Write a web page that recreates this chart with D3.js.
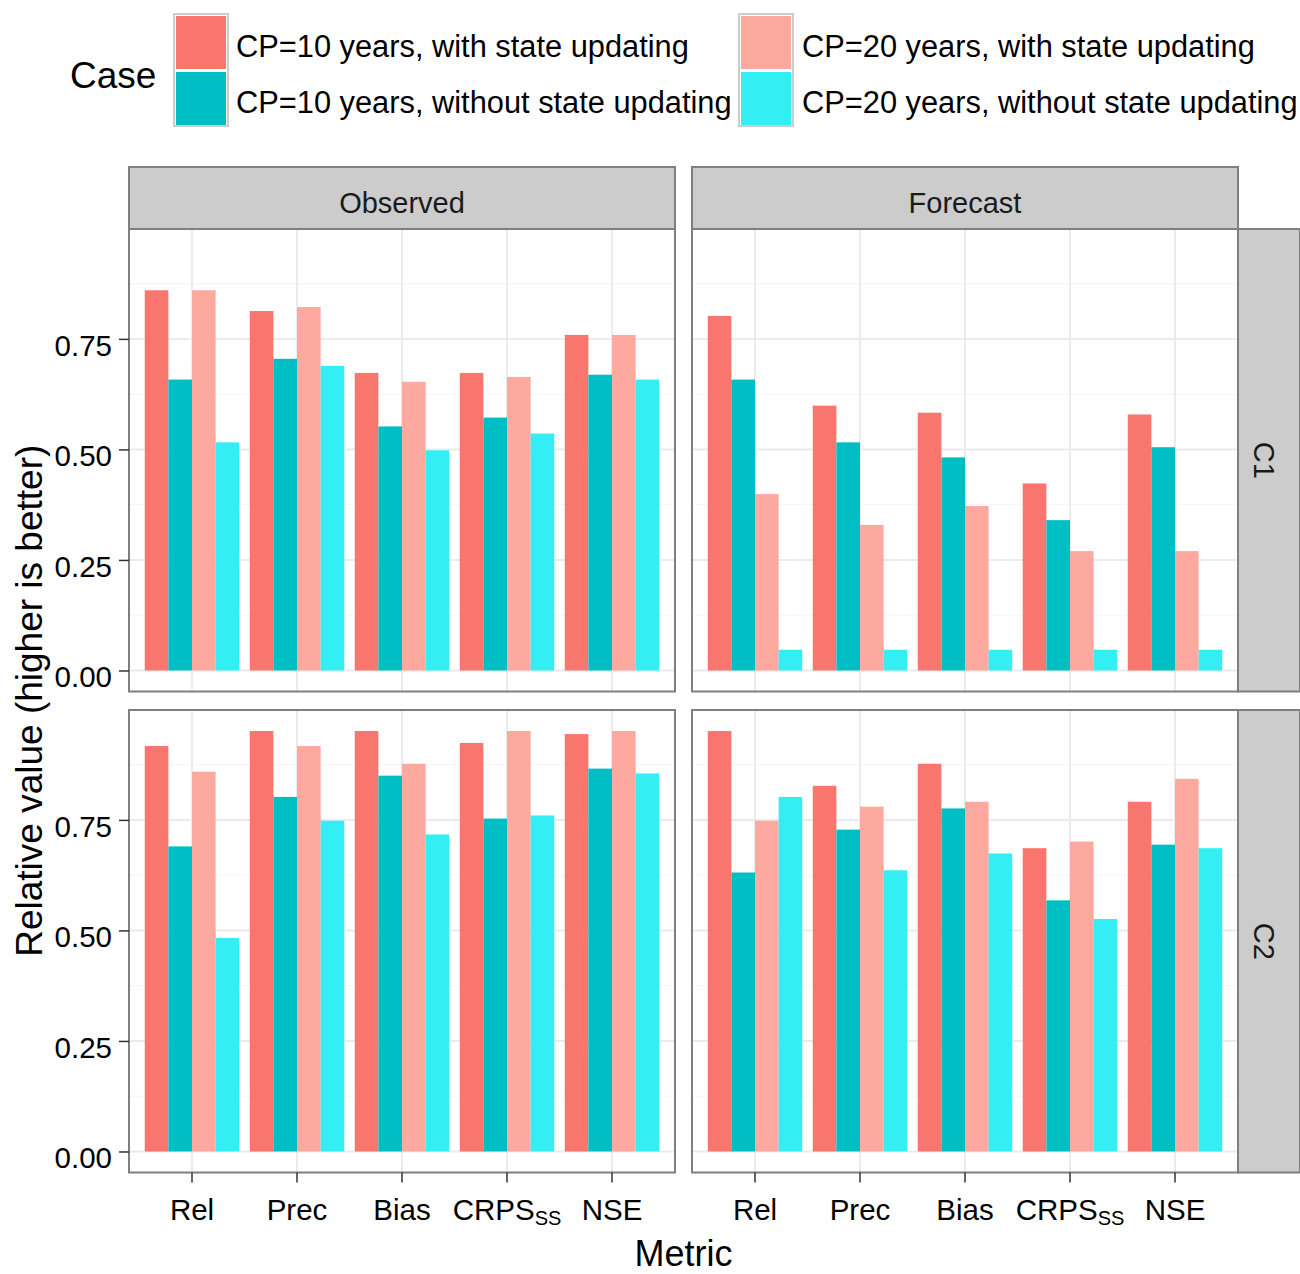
<!DOCTYPE html>
<html>
<head>
<meta charset="utf-8">
<script src="https://cdn.jsdelivr.net/npm/d3@7"></script>
<style>
  body { margin: 0; background: #fff; }
  svg { display: block; font-family: "Liberation Sans", Arial, sans-serif; }
</style>
</head>
<body>
<div id="chart"></div>
<script>
// categories
const metrics = ["Rel", "Prec", "Bias", "CRPS", "NSE"];
const cases = [
  "CP=10 years, with state updating",
  "CP=10 years, without state updating",
  "CP=20 years, with state updating",
  "CP=20 years, without state updating"
];
const sources = ["Observed", "Forecast"];
const catchments = ["C1", "C2"];
const caseColors = ["#F8766D", "#00BFC4", "#FDA9A0", "#33EFF4"];
const yTicks = [0, 0.25, 0.5, 0.75];
const yMinorTicks = [0.125, 0.375, 0.625, 0.875];

// values: one row per case, one value per metric
const c1Observed = [
  [0.860, 0.813, 0.673, 0.673, 0.759],
  [0.658, 0.705, 0.552, 0.572, 0.669],
  [0.860, 0.822, 0.653, 0.664, 0.759],
  [0.516, 0.689, 0.498, 0.536, 0.658]
];
const c1Forecast = [
  [0.802, 0.599, 0.583, 0.423, 0.579],
  [0.658, 0.516, 0.482, 0.340, 0.505],
  [0.399, 0.329, 0.372, 0.270, 0.270],
  [0.047, 0.047, 0.047, 0.047, 0.047]
];
const c2Observed = [
  [0.917, 0.951, 0.951, 0.924, 0.944],
  [0.690, 0.802, 0.850, 0.753, 0.866],
  [0.859, 0.917, 0.877, 0.951, 0.951],
  [0.483, 0.748, 0.717, 0.760, 0.855]
];
const c2Forecast = [
  [0.951, 0.827, 0.877, 0.686, 0.791],
  [0.631, 0.728, 0.776, 0.568, 0.694],
  [0.748, 0.780, 0.791, 0.701, 0.843],
  [0.802, 0.636, 0.674, 0.526, 0.686]
];
const panelValues = [[c1Observed, c1Forecast], [c2Observed, c2Forecast]];

// layout
const width = 1300, height = 1274;
const panelW = 546, panelH = 462.5;
const colX = [129, 692];
const rowY = [229, 710];
const stripTop = 167, stripH = 62, stripW = 62;

const svg = d3.select("#chart").append("svg")
    .attr("width", width)
    .attr("height", height);

svg.append("rect").attr("width", width).attr("height", height).attr("fill", "#fff");

// shared scales
const maxVal = d3.max(panelValues.flat(3));
const y = d3.scaleLinear()
    .domain([-0.05 * maxVal, 1.05 * maxVal])
    .range([panelH, 0]);

// discrete scale with ggplot-like 0.6 expansion
const x = d3.scaleBand()
    .domain(metrics)
    .range([0, panelW])
    .paddingInner(0.1)
    .paddingOuter(0.15);

const xCase = d3.scaleBand()
    .domain(cases)
    .range([0, x.bandwidth()]);

const xCenter = m => x(m) + x.bandwidth() / 2;

catchments.forEach((cat, r) => {
  sources.forEach((src, c) => {
    const g = svg.append("g")
        .attr("transform", `translate(${colX[c]},${rowY[r]})`);

    g.append("rect")
        .attr("width", panelW).attr("height", panelH)
        .attr("fill", "#fff");

    // grid
    g.selectAll(".minor").data(yMinorTicks).join("line")
        .attr("x1", 0).attr("x2", panelW)
        .attr("y1", d => y(d)).attr("y2", d => y(d))
        .attr("stroke", "#f5f5f5").attr("stroke-width", 1);

    g.selectAll(".major").data(yTicks).join("line")
        .attr("x1", 0).attr("x2", panelW)
        .attr("y1", d => y(d)).attr("y2", d => y(d))
        .attr("stroke", "#ebebeb").attr("stroke-width", 2);

    g.selectAll(".vgrid").data(metrics).join("line")
        .attr("x1", d => xCenter(d)).attr("x2", d => xCenter(d))
        .attr("y1", 0).attr("y2", panelH)
        .attr("stroke", "#ebebeb").attr("stroke-width", 2);

    // bars
    const vals = panelValues[r][c];
    const bars = [];
    cases.forEach((cs, k) => {
      metrics.forEach((m, j) => bars.push({ metric: m, kase: cs, k: k, value: vals[k][j] }));
    });

    g.selectAll(".bar").data(bars).join("rect")
        .attr("x", d => x(d.metric) + xCase(d.kase))
        .attr("width", xCase.bandwidth())
        .attr("y", d => y(d.value))
        .attr("height", d => y(0) - y(d.value))
        .attr("fill", d => caseColors[d.k]);

    g.append("rect")
        .attr("width", panelW).attr("height", panelH)
        .attr("fill", "none")
        .attr("stroke", "#7f7f7f").attr("stroke-width", 2);

    // axes
    if (c === 0) {
      const ya = g.append("g")
          .call(d3.axisLeft(y).tickValues(yTicks).tickFormat(d3.format(".2f"))
            .tickSize(10).tickPadding(7));
      ya.select(".domain").remove();
      ya.selectAll(".tick line").attr("stroke", "#333").attr("stroke-width", 1.5);
      ya.selectAll("text")
          .attr("fill", "#000")
          .attr("dy", "0.55em")
          .style("font-size", "29.5px");
    }
    if (r === catchments.length - 1) {
      const xa = g.append("g")
          .attr("transform", `translate(0,${panelH})`)
          .call(d3.axisBottom(x).tickSize(10).tickPadding(17));
      xa.select(".domain").remove();
      xa.selectAll(".tick line").attr("stroke", "#333").attr("stroke-width", 1.5);
      xa.selectAll("text")
          .attr("fill", "#000")
          .style("font-size", "29.5px");
      // CRPS with SS subscript
      xa.selectAll("text").filter(d => d === "CRPS").each(function() {
        const t = d3.select(this).text("");
        t.append("tspan").text("CRPS");
        t.append("tspan").text("SS")
            .attr("dy", "0.25em")
            .style("font-size", "20px");
      });
    }
  });
});

// top strips
sources.forEach((src, c) => {
  svg.append("rect")
      .attr("x", colX[c]).attr("y", stripTop)
      .attr("width", panelW).attr("height", stripH)
      .attr("fill", "#cccccc")
      .attr("stroke", "#7f7f7f").attr("stroke-width", 2);
  svg.append("text")
      .attr("x", colX[c] + panelW / 2)
      .attr("y", 213)
      .attr("text-anchor", "middle")
      .attr("fill", "#1a1a1a")
      .style("font-size", "29px")
      .text(src);
});

// right strips
const stripX = colX[1] + panelW;
catchments.forEach((cat, r) => {
  svg.append("rect")
      .attr("x", stripX).attr("y", rowY[r])
      .attr("width", stripW).attr("height", panelH)
      .attr("fill", "#cccccc")
      .attr("stroke", "#7f7f7f").attr("stroke-width", 2);
  svg.append("text")
      .attr("transform", `translate(${stripX + 16},${rowY[r] + panelH / 2}) rotate(90)`)
      .attr("text-anchor", "middle")
      .attr("fill", "#1a1a1a")
      .style("font-size", "29px")
      .text(cat);
});

// axis titles
svg.append("text")
    .attr("x", (colX[0] + colX[1] + panelW) / 2)
    .attr("y", 1266)
    .attr("text-anchor", "middle")
    .attr("fill", "#000")
    .style("font-size", "36px")
    .text("Metric");

svg.append("text")
    .attr("transform", `translate(42,${(rowY[0] + rowY[1] + panelH) / 2}) rotate(-90)`)
    .attr("text-anchor", "middle")
    .attr("fill", "#000")
    .style("font-size", "37px")
    .text("Relative value (higher is better)");

// legend
const legend = svg.append("g");
legend.append("text")
    .attr("x", 70).attr("y", 88)
    .attr("fill", "#000")
    .style("font-size", "37px")
    .text("Case");

const keyX = [174, 739], labelX = [236, 802];
const keyTop = 14, keySize = 56;
[0, 1].forEach(col => {
  legend.append("rect")
      .attr("x", keyX[col]).attr("y", keyTop)
      .attr("width", 54).attr("height", keySize * 2)
      .attr("fill", "#fff")
      .attr("stroke", "#cccccc").attr("stroke-width", 2);
  [0, 1].forEach(row => {
    const k = col * 2 + row;
    legend.append("rect")
        .attr("x", keyX[col] + 2).attr("y", keyTop + row * keySize + 2)
        .attr("width", 50).attr("height", keySize - 3)
        .attr("fill", caseColors[k]);
    legend.append("text")
        .attr("x", labelX[col])
        .attr("y", keyTop + row * keySize + 43)
        .attr("fill", "#000")
        .style("font-size", "30.8px")
        .text(cases[k]);
  });
});
</script>
</body>
</html>
